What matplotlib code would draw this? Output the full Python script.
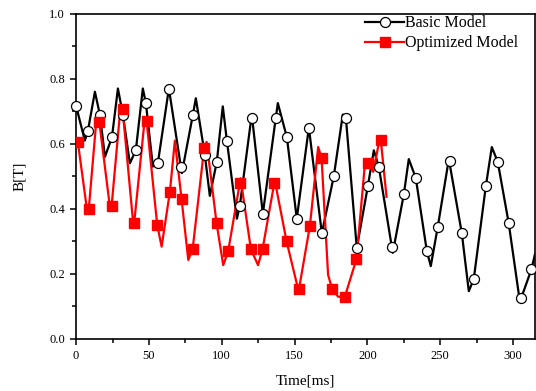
import matplotlib
matplotlib.use("Agg")
import matplotlib.pyplot as plt
from matplotlib.lines import Line2D

plt.rcParams['font.family'] = ['Liberation Serif', 'DejaVu Serif']

# --- basic model: line vertices (peaks, troughs, marker points) ---
basic_t = [0, 6.0, 8.1, 12.9, 16.3, 19.8, 24.6, 28.7, 32.1, 36.9, 41.0, 45.8, 47.9,
           52.7, 56.1, 63.7, 71.9, 72.6, 80.2, 82.2, 88.4, 91.8, 96.6, 100.7, 103.5,
           110.4, 112.4, 120.6, 128.2, 137.1, 138.5, 144.7, 151.5, 159.8, 168.7,
           176.9, 183.1, 185.2, 192.7, 200.3, 204.4, 207.8, 217.4, 225.0, 228.4,
           233.2, 240.8, 243.5, 248.3, 255.9, 264.8, 269.6, 273.0, 281.3, 285.4,
           289.5, 297.0, 304.5, 305.5, 312.6, 315.0]
basic_b = [0.716, 0.61, 0.64, 0.76, 0.69, 0.56, 0.62, 0.77, 0.69, 0.54, 0.58, 0.77, 0.725,
           0.53, 0.54, 0.77, 0.53, 0.51, 0.69, 0.74, 0.565, 0.44, 0.545, 0.715, 0.61,
           0.37, 0.41, 0.69, 0.385, 0.68, 0.725, 0.62, 0.37, 0.65, 0.325,
           0.50, 0.69, 0.68, 0.28, 0.47, 0.58, 0.53, 0.265, 0.445, 0.553,
           0.495, 0.27, 0.224, 0.345, 0.553, 0.325, 0.147, 0.184, 0.47, 0.59,
           0.544, 0.356, 0.12, 0.125, 0.214, 0.26]

# circle markers of the basic model
basic_mt = [0, 8.1, 16.3, 24.6, 32.1, 41.0, 47.9, 56.1, 63.7, 71.9, 80.2, 88.4, 96.6,
            103.5, 112.4, 120.6, 128.2, 137.1, 144.7, 151.5, 159.8, 168.7, 176.9,
            185.2, 192.7, 200.3, 207.8, 216.7, 225.0, 233.2, 240.8, 248.3, 256.5,
            264.8, 273.0, 281.3, 289.5, 297.0, 305.5, 312.6]
basic_mb = [0.716, 0.64, 0.69, 0.62, 0.69, 0.58, 0.725, 0.54, 0.77, 0.53, 0.69, 0.565, 0.545,
            0.61, 0.41, 0.68, 0.385, 0.68, 0.62, 0.37, 0.65, 0.325, 0.50,
            0.68, 0.28, 0.47, 0.53, 0.283, 0.445, 0.495, 0.27, 0.345, 0.547,
            0.325, 0.184, 0.47, 0.544, 0.356, 0.125, 0.214]

# --- optimized model ---
opt_t = [1.2, 7.4, 8.7, 14.1, 15.9, 23.2, 24.4, 30.5, 31.9, 39.2, 39.9, 47.2, 48.4,
         55.7, 58.7, 64.4, 67.8, 72.4, 77.0, 80.0, 87.9, 89.6, 96.4, 101.0, 104.4,
         112.4, 112.9, 120.0, 124.9, 128.0, 136.0, 136.5, 144.5, 152.6, 153.0,
         160.5, 166.2, 168.5, 173.0, 175.8, 179.9, 184.5, 192.5, 198.2, 200.5,
         204.0, 208.5, 209.2, 213.1]
opt_b = [0.605, 0.40, 0.40, 0.683, 0.668, 0.406, 0.41, 0.714, 0.707, 0.355, 0.358, 0.68, 0.67,
         0.35, 0.284, 0.453, 0.61, 0.43, 0.243, 0.276, 0.586, 0.606, 0.357, 0.227, 0.27,
         0.48, 0.494, 0.276, 0.227, 0.276, 0.478, 0.485, 0.30, 0.15, 0.153,
         0.348, 0.59, 0.557, 0.197, 0.154, 0.13, 0.13, 0.246, 0.535, 0.54,
         0.514, 0.617, 0.611, 0.437]

opt_mt = [1.2, 8.7, 15.9, 24.4, 31.9, 39.9, 48.4, 55.7, 64.4, 72.4, 80.0, 87.9, 96.4,
          104.4, 112.4, 120.0, 128.0, 136.0, 144.5, 153.0, 160.5, 168.5, 175.8,
          184.5, 192.5, 200.5, 209.2]
opt_mb = [0.605, 0.40, 0.668, 0.41, 0.707, 0.358, 0.67, 0.35, 0.453, 0.43, 0.276, 0.586, 0.357,
          0.27, 0.48, 0.276, 0.276, 0.478, 0.30, 0.153, 0.348, 0.557, 0.154,
          0.13, 0.246, 0.54, 0.611]

fig = plt.figure(figsize=(5.36, 3.91), dpi=100)
ax = fig.add_axes([0.142, 0.133, 0.856, 0.832])

ax.plot(basic_t, basic_b, color='black', lw=1.6, zorder=2)
ax.plot(basic_mt, basic_mb, ls='none', marker='o', ms=7.2, mfc='white', mec='black',
        mew=0.9, zorder=4, clip_on=False)
ax.plot(opt_t, opt_b, color='red', lw=1.6, zorder=3)
ax.plot(opt_mt, opt_mb, ls='none', marker='s', ms=6.5, mfc='red', mec='red', zorder=5)

ax.set_xlim(0, 315)
ax.set_ylim(0, 1.0)
ax.set_xticks([0, 50, 100, 150, 200, 250, 300])
ax.set_xticks([25, 75, 125, 175, 225, 275], minor=True)
ax.set_yticks([0.0, 0.2, 0.4, 0.6, 0.8, 1.0])
ax.set_yticks([0.1, 0.3, 0.5, 0.7, 0.9], minor=True)
ax.set_yticklabels(['0.0', '0.2', '0.4', '0.6', '0.8', '1.0'])
ax.tick_params(which='major', direction='out', length=4.5, width=1.1, labelsize=9)
ax.tick_params(which='minor', direction='out', length=3, width=1.1)
for sp in ax.spines.values():
    sp.set_linewidth(1.2)

ax.set_xlabel('Time[ms]', fontsize=11, labelpad=9)
ax.set_ylabel('B[T]', fontsize=11, labelpad=17)

handles = [
    Line2D([], [], color='black', lw=1.6, marker='o', ms=7.2, mfc='white', mec='black', mew=0.9),
    Line2D([], [], color='red', lw=1.6, marker='s', ms=6.5, mfc='red', mec='red'),
]
ax.legend(handles, ['Basic Model', 'Optimized Model'], loc='upper right', frameon=False,
          fontsize=11.5, handlelength=2.4, handletextpad=0.1, labelspacing=0.25,
          borderaxespad=0.2, bbox_to_anchor=(0.985, 1.025))

fig.savefig('out.png', dpi=100)
